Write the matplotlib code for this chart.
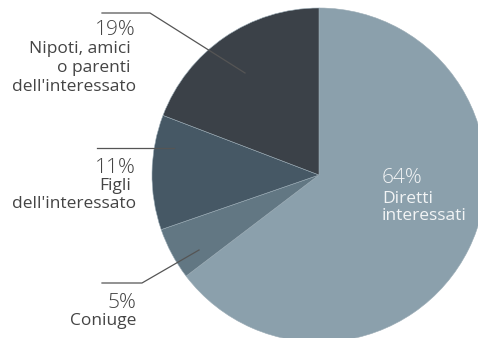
import matplotlib
matplotlib.use("Agg")
import matplotlib.pyplot as plt

# share of requests by who asked
shares = [64, 5, 11, 19]
pct_labels = ["64%", "5%", "11%", "19%"]
names = [
    ["Diretti", "interessati"],
    ["Coniuge"],
    ["Figli", "dell'interessato"],
    ["Nipoti, amici", "o parenti", "dell'interessato"],
]
colors = ["#8ba0ac", "#627783", "#465865", "#3b4148"]

W, H = 478, 338
plt.rcParams["font.family"] = ["Open Sans", "DejaVu Sans"]

fig = plt.figure(figsize=(W / 100, H / 100), dpi=100)
ax = fig.add_axes([0, 0, 1, 1])

# work in pixel units, y measured from the top
def py(y):
    return H - y

ax.pie(shares, colors=colors, startangle=90, counterclock=False,
       center=(319, py(175)), radius=167,
       wedgeprops=dict(edgecolor="#9aabb5", linewidth=0.4))
ax.set_xlim(0, W)
ax.set_ylim(0, H)
ax.set_aspect("equal")
ax.axis("off")

txt = "#444444"
line_c = "#555555"

# leader lines
leaders = [
    [(102, 13), (150, 13), (245, 73)],
    [(97, 148), (174, 148)],
    [(102, 283), (142, 283), (199, 250)],
]
for pts in leaders:
    ax.plot([p[0] for p in pts], [py(p[1]) for p in pts], color=line_c, lw=0.9)

def label(x, pct, lines, ha, color, pct_base, bases, xs=None):
    ax.text(x, py(pct_base), pct, ha=ha, va="baseline", fontsize=15,
            fontweight="light", color=color)
    for i, (s, b) in enumerate(zip(lines, bases)):
        xx = x if xs is None else xs[i]
        ax.text(xx, py(b), s, ha=ha, va="baseline", fontsize=12.5, color=color)

label(382, pct_labels[0], names[0], "left", "#f2f4f5", 183, [203, 220])
label(136, pct_labels[1], names[1], "right", txt, 307.5, [325])
label(136, pct_labels[2], names[2], "right", txt, 173, [190, 208], xs=[131, 136])
label(136, pct_labels[3], names[3], "right", txt, 35, [53, 72, 91], xs=[131, 131, 136])

fig.savefig("out.png", dpi=100)
